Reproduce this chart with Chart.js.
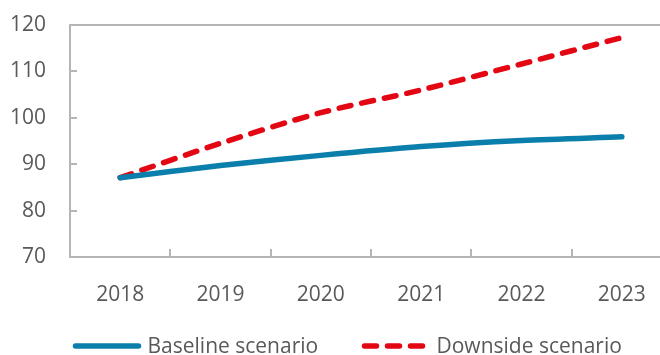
<!DOCTYPE html>
<html>
<head>
<meta charset="utf-8">
<script src="https://cdn.jsdelivr.net/npm/chart.js@4"></script>
<style>
  html, body { margin: 0; padding: 0; background: #fff; overflow: hidden; }
  #chart { display: block; }
</style>
</head>
<body>
<canvas id="chart" width="672" height="355"></canvas>
<script>
// years on the x axis
const years = ['2018', '2019', '2020', '2021', '2022', '2023'];
// index values for each scenario
const baseline = [87.1, 89.7, 91.9, 93.8, 95.1, 95.9];
const downside = [87.1, 94.5, 101.1, 106.0, 111.6, 117.3];
// y axis range
const yMin = 70;
const yMax = 120;
const yStep = 10;

const axisGrey = '#b5b5b5';
const textGrey = '#595959';
const fontFamily = '"Open Sans", "Noto Sans", sans-serif';

// short tick marks pointing into the plot area
const innerTicks = {
    id: 'innerTicks',
    beforeDatasetsDraw(chart) {
        const ctx = chart.ctx;
        const area = chart.chartArea;
        const x = chart.scales.x;
        const y = chart.scales.y;
        ctx.save();
        ctx.strokeStyle = axisGrey;
        ctx.lineWidth = 2;
        ctx.beginPath();
        y.ticks.forEach(function (t) {
            const py = Math.round(y.getPixelForValue(t.value));
            ctx.moveTo(area.left, py);
            ctx.lineTo(area.left + 7, py);
        });
        for (let i = 1; i < years.length; i++) {
            const px = Math.round((x.getPixelForValue(i - 1) + x.getPixelForValue(i)) / 2);
            ctx.moveTo(px, area.bottom);
            ctx.lineTo(px, area.bottom - 8);
        }
        ctx.stroke();
        ctx.restore();
    }
};

// legend row under the axis: line sample followed by the series name
const lineLegend = {
    id: 'lineLegend',
    afterDraw(chart) {
        const ctx = chart.ctx;
        const starts = [75.5, 364.5];
        const sampleY = 346;
        ctx.save();
        chart.data.datasets.forEach(function (ds, i) {
            const x0 = starts[i];
            ctx.beginPath();
            ctx.strokeStyle = ds.borderColor;
            ctx.lineWidth = ds.borderWidth;
            ctx.lineCap = 'round';
            ctx.setLineDash(ds.borderDash || []);
            ctx.moveTo(x0, sampleY);
            ctx.lineTo(x0 + 63, sampleY);
            ctx.stroke();
            ctx.setLineDash([]);
            ctx.fillStyle = textGrey;
            ctx.font = '21px ' + fontFamily;
            ctx.textBaseline = 'alphabetic';
            ctx.fillText(ds.label, x0 + 72, 353);
        });
        ctx.restore();
    }
};

new Chart(document.getElementById('chart').getContext('2d'), {
    type: 'line',
    data: {
        labels: years,
        datasets: [
            {
                label: 'Baseline scenario',
                data: baseline,
                borderColor: '#0b7fab',
                backgroundColor: '#0b7fab',
                borderWidth: 5.5,
                borderCapStyle: 'round',
                pointRadius: 0,
                tension: 0.3
            },
            {
                label: 'Downside scenario',
                data: downside,
                borderColor: '#e30613',
                backgroundColor: '#e30613',
                borderWidth: 5.5,
                borderDash: [12, 11],
                borderCapStyle: 'round',
                pointRadius: 0,
                tension: 0.3
            }
        ]
    },
    options: {
        responsive: false,
        animation: false,
        layout: { padding: { top: 25, left: 0, right: 0, bottom: 0 } },
        plugins: {
            tooltip: { enabled: false },
            legend: { display: false }
        },
        scales: {
            x: {
                offset: true,
                afterFit: function (axis) { axis.height = 98; },
                grid: { display: false, offset: true, drawTicks: false },
                border: { display: true, color: axisGrey, width: 2 },
                ticks: {
                    padding: 25,
                    color: textGrey,
                    font: { family: fontFamily, size: 21 },
                    maxRotation: 0
                }
            },
            y: {
                min: yMin,
                max: yMax,
                afterFit: function (axis) {
                    axis.width = 70;
                    axis.paddingTop = 0;
                    axis.paddingBottom = 0;
                },
                grid: {
                    drawTicks: false,
                    lineWidth: 2,
                    color: function (c) { return c.tick && c.tick.value === yMax ? axisGrey : 'rgba(0,0,0,0)'; }
                },
                border: { display: true, color: axisGrey, width: 2 },
                ticks: {
                    stepSize: yStep,
                    padding: 24,
                    color: textGrey,
                    font: { family: fontFamily, size: 21 }
                }
            }
        }
    },
    plugins: [innerTicks, lineLegend]
});
</script>
</body>
</html>
